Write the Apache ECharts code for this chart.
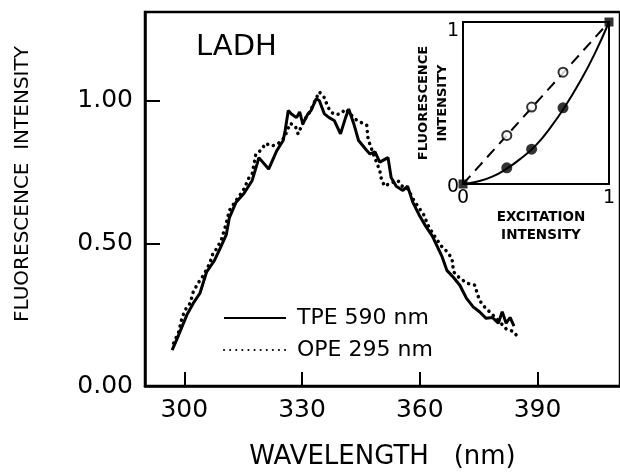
<!DOCTYPE html>
<html>
<head>
<meta charset="utf-8">
<script src="https://cdn.jsdelivr.net/npm/echarts@6/dist/echarts.min.js"></script>
<style>
  html, body { margin: 0; padding: 0; background: #fff; }
  #chart { width: 620px; height: 475px; }
</style>
</head>
<body>
<div id="chart"></div>
<script>
// main spectrum
const tpeWl = [296.9, 298.0, 299.2, 300.7, 302.3, 304.0, 304.4, 305.7, 307.7, 309.4, 310.7, 311.5, 313.2, 315.2, 317.3, 318.6, 319.0, 321.5, 323.6, 325.2, 325.7, 326.5, 327.3, 328.6, 329.4, 330.2, 331.5, 332.3, 333.6, 334.4, 335.7, 336.9, 338.2, 339.8, 341.1, 341.9, 343.2, 344.4, 346.5, 347.3, 348.6, 349.8, 351.9, 352.7, 354.0, 355.7, 356.9, 358.2, 359.8, 361.5, 363.2, 365.7, 366.9, 368.6, 370.2, 371.9, 373.6, 375.2, 376.9, 378.5, 380.0, 381.0, 382.0, 383.0, 384.0]
const tpeInt = [0.126, 0.16, 0.20, 0.25, 0.29, 0.325, 0.33, 0.40, 0.44, 0.49, 0.53, 0.59, 0.644, 0.674, 0.72, 0.78, 0.80, 0.76, 0.825, 0.86, 0.895, 0.965, 0.953, 0.94, 0.96, 0.918, 0.953, 0.965, 1.006, 1.0, 0.953, 0.94, 0.93, 0.883, 0.94, 0.97, 0.918, 0.86, 0.825, 0.813, 0.82, 0.784, 0.80, 0.73, 0.70, 0.685, 0.70, 0.644, 0.60, 0.56, 0.525, 0.452, 0.405, 0.38, 0.353, 0.307, 0.277, 0.26, 0.237, 0.24, 0.22, 0.26, 0.22, 0.24, 0.21]

const opeWl = [297.3, 298.6, 299.4, 300.2, 301.5, 302.3, 303.5, 305.0, 306.5, 307.3, 308.2, 309.4, 310.5, 311.5, 313.2, 314.4, 315.2, 316.5, 317.3, 318.2, 319.8, 320.7, 322.3, 324.0, 325.5, 327.0, 328.3, 329.0, 330.5, 332.0, 333.0, 334.4, 335.7, 336.5, 337.3, 338.5, 339.8, 341.1, 342.5, 344.0, 345.5, 346.5, 346.8, 347.2, 348.5, 349.8, 350.2, 351.0, 352.5, 354.4, 355.5, 357.0, 358.5, 360.0, 361.0, 362.3, 364.0, 365.5, 367.0, 368.2, 368.6, 370.0, 372.0, 374.0, 374.4, 375.2, 376.5, 378.2, 380.0, 382.0, 384.0, 385.0]
const opeInt = [0.15, 0.19, 0.237, 0.266, 0.29, 0.33, 0.36, 0.39, 0.43, 0.464, 0.48, 0.51, 0.56, 0.615, 0.65, 0.673, 0.69, 0.73, 0.743, 0.81, 0.83, 0.85, 0.84, 0.85, 0.87, 0.92, 0.91, 0.883, 0.93, 0.96, 0.99, 1.03, 1.01, 0.98, 0.96, 0.95, 0.953, 0.97, 0.95, 0.93, 0.92, 0.913, 0.87, 0.85, 0.80, 0.755, 0.726, 0.70, 0.71, 0.72, 0.70, 0.69, 0.65, 0.62, 0.60, 0.557, 0.52, 0.49, 0.47, 0.446, 0.40, 0.38, 0.36, 0.353, 0.335, 0.30, 0.277, 0.254, 0.23, 0.20, 0.19, 0.17]

const xTicks = [300, 330, 360, 390]
const yTicks = [0, 0.5, 1.0]

// inset: excitation vs fluorescence
const insetCurveX = [0, 0.1, 0.2, 0.3, 0.4, 0.5, 0.6, 0.7, 0.8, 0.9, 1]
const insetCurveY = [0, 0.015, 0.045, 0.095, 0.16, 0.24, 0.35, 0.48, 0.63, 0.8, 1]
const openX = [0.3, 0.47, 0.685]
const openY = [0.3, 0.475, 0.69]
const filledX = [0.3, 0.47, 0.685]
const filledY = [0.1, 0.215, 0.47]
const squareX = [0, 1]
const squareY = [0, 1]

const zip = (a, b) => a.map((v, i) => [v, b[i]])

const font = 'DejaVu Sans'
const chart = echarts.init(document.getElementById('chart'))

const option = {
  backgroundColor: '#fff',
  animation: false,
  title: {
    text: 'LADH',
    left: 191,
    top: 28,
    textStyle: { fontFamily: font, fontSize: 29, fontWeight: 'normal', color: '#000' },
  },
  legend: {
    data: ['TPE 590 nm', 'OPE 295 nm'],
    orient: 'vertical',
    left: 218,
    top: 302,
    itemWidth: 62,
    itemHeight: 12,
    itemGap: 10,
    itemStyle: { opacity: 0 },
    textStyle: { fontFamily: font, fontSize: 22, color: '#000', padding: [0, 0, 0, 6] },
  },
  grid: [
    { left: 145, top: 12, right: -30, bottom: 89, show: true, borderColor: '#000', borderWidth: 2.5 },
    { left: 463, top: 22, width: 146, height: 162, show: true, borderColor: '#000', borderWidth: 2, backgroundColor: '#fff', z: 5 },
  ],
  xAxis: [
    {
      gridIndex: 0,
      type: 'value',
      min: 290,
      max: 411,
      splitLine: { show: false },
      axisLine: { lineStyle: { color: '#000', width: 2.5 } },
      axisTick: { inside: true, length: 14, customValues: xTicks, lineStyle: { color: '#000', width: 2 } },
      axisLabel: { customValues: xTicks, fontFamily: font, fontSize: 25, color: '#000', margin: 12 },
      name: 'WAVELENGTH   (nm)',
      nameLocation: 'middle',
      nameGap: 58,
      nameTextStyle: { fontFamily: font, fontSize: 26, color: '#000' },
    },
    {
      gridIndex: 1,
      type: 'value',
      min: 0,
      max: 1,
      splitLine: { show: false },
      axisLine: { lineStyle: { color: '#000', width: 2 } },
      axisTick: { show: false },
      axisLabel: { customValues: [0, 1], fontFamily: font, fontSize: 19, color: '#000', margin: 5 },
      name: 'EXCITATION\nINTENSITY',
      nameLocation: 'middle',
      nameGap: 19,
      nameTextStyle: { fontFamily: font, fontSize: 13.5, fontWeight: 'bold', color: '#000', lineHeight: 18, padding: [0, 0, 0, 10] },
    },
  ],
  yAxis: [
    {
      gridIndex: 0,
      type: 'value',
      min: 0,
      max: 1.31,
      splitLine: { show: false },
      axisLine: { lineStyle: { color: '#000', width: 2.5 } },
      axisTick: { inside: true, length: 15, customValues: yTicks, lineStyle: { color: '#000', width: 2 } },
      axisLabel: {
        customValues: yTicks,
        formatter: (v) => v.toFixed(2),
        fontFamily: font,
        fontSize: 25,
        color: '#000',
        margin: 12,
      },
      name: 'FLUORESCENCE  INTENSITY',
      nameLocation: 'middle',
      nameGap: 112,
      nameTextStyle: { fontFamily: font, fontSize: 20, color: '#000', padding: [0, 0, 0, 30] },
    },
    {
      gridIndex: 1,
      type: 'value',
      min: 0,
      max: 1,
      splitLine: { show: false },
      axisLine: { lineStyle: { color: '#000', width: 2 } },
      axisTick: { show: false },
      axisLabel: {
        customValues: [0, 1],
        formatter: (v) => (v === 1 ? '{t|1}' : '{b|0}'),
        rich: {
          t: { fontFamily: font, fontSize: 19, color: '#000', padding: [18, 0, 0, 0] },
          b: { fontFamily: font, fontSize: 19, color: '#000', padding: [6, 0, 0, 0] },
        },
        margin: 4,
      },
      name: 'FLUORESCENCE\nINTENSITY',
      nameLocation: 'middle',
      nameMoveOverlap: false,
      nameGap: 11,
      nameTextStyle: { fontFamily: font, fontSize: 13, fontWeight: 'bold', color: '#000', lineHeight: 19 },
    },
  ],
  series: [
    {
      name: 'TPE 590 nm',
      type: 'line',
      xAxisIndex: 0,
      yAxisIndex: 0,
      data: zip(tpeWl, tpeInt),
      showSymbol: false,
      symbol: 'none',
      itemStyle: { color: '#000' },
      lineStyle: { color: '#000', width: 3 },
      z: 3,
    },
    {
      name: 'OPE 295 nm',
      type: 'line',
      xAxisIndex: 0,
      yAxisIndex: 0,
      data: zip(opeWl, opeInt),
      showSymbol: false,
      symbol: 'none',
      itemStyle: { color: '#000' },
      lineStyle: { color: '#000', width: 3.5, type: [0.1, 6], cap: 'round' },
      z: 2,
    },
    {
      name: 'linear',
      type: 'line',
      xAxisIndex: 1,
      yAxisIndex: 1,
      data: [[0, 0], [1, 1]],
      symbol: 'none',
      lineStyle: { color: '#000', width: 2, type: [11, 7] },
      z: 6,
    },
    {
      name: 'quadratic',
      type: 'line',
      xAxisIndex: 1,
      yAxisIndex: 1,
      data: zip(insetCurveX, insetCurveY),
      smooth: true,
      symbol: 'none',
      lineStyle: { color: '#000', width: 2 },
      z: 6,
    },
    {
      name: 'ope points',
      type: 'scatter',
      xAxisIndex: 1,
      yAxisIndex: 1,
      data: zip(openX, openY),
      symbol: 'circle',
      symbolSize: 9,
      itemStyle: { color: '#fff', borderColor: '#000', borderWidth: 2 },
      z: 7,
    },
    {
      name: 'tpe points',
      type: 'scatter',
      xAxisIndex: 1,
      yAxisIndex: 1,
      data: zip(filledX, filledY),
      symbol: 'circle',
      symbolSize: 11,
      itemStyle: { color: '#000' },
      z: 7,
    },
    {
      name: 'ends',
      type: 'scatter',
      xAxisIndex: 1,
      yAxisIndex: 1,
      data: zip(squareX, squareY),
      symbol: 'rect',
      symbolSize: 9,
      itemStyle: { color: '#000' },
      z: 7,
    },
  ],
}

option && chart.setOption(option)
</script>
</body>
</html>
